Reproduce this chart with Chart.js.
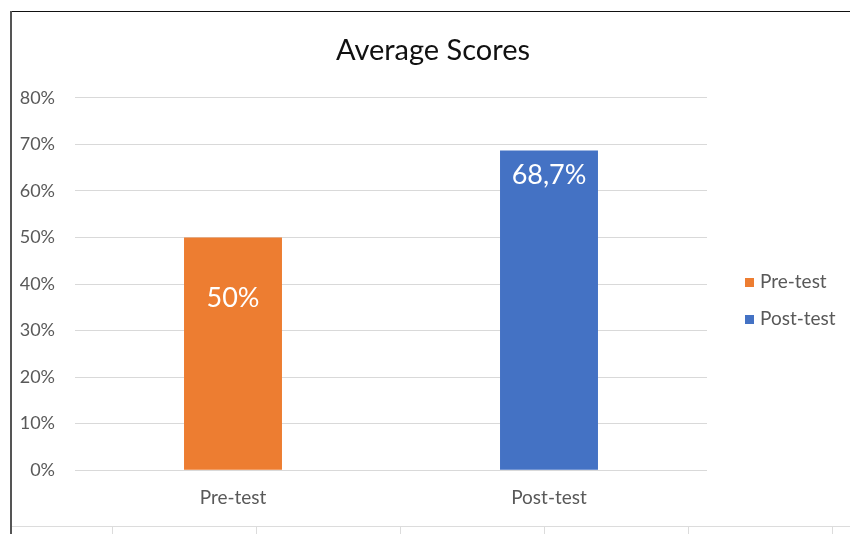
<!DOCTYPE html>
<html lang="en">

<head>
    <meta charset="UTF-8">
    <title>Average Scores</title>
    <script src="https://cdn.jsdelivr.net/npm/chart.js"></script>
    <style>
        html, body { margin: 0; padding: 0; background: #fff; }
        #wrap { width: 850px; height: 534px; }
    </style>
</head>

<body>
    <div id="wrap"><canvas id="scores-chart" width="850" height="534"></canvas></div>

    <script>
        // data
        const categories = ['Pre-test', 'Post-test'];
        const preTest = [50, null];
        const postTest = [null, 68.7];
        const valueLabels = ['50%', '68,7%'];
        const yTicks = [0, 10, 20, 30, 40, 50, 60, 70, 80];

        const labelFont = "Lato, 'Open Sans', sans-serif";

        // spreadsheet frame behind the chart
        const framePlugin = {
            id: 'frame',
            beforeDraw(chart) {
                const c = chart.ctx;
                c.save();
                c.fillStyle = '#fff';
                c.fillRect(0, 0, chart.width, chart.height);
                // cell grid below the chart
                c.strokeStyle = '#dcdcdc';
                c.lineWidth = 1;
                c.beginPath();
                c.moveTo(10, 526.5); c.lineTo(850, 526.5);
                [112, 256, 400, 544, 688, 832].forEach(x => {
                    c.moveTo(x + 0.5, 526); c.lineTo(x + 0.5, 534);
                });
                c.stroke();
                // chart border
                c.strokeStyle = '#111';
                c.beginPath();
                c.moveTo(10, 11.5); c.lineTo(850, 11.5);
                c.stroke();
                c.strokeStyle = '#555';
                c.lineWidth = 2;
                c.beginPath();
                c.moveTo(11, 11); c.lineTo(11, 534);
                c.stroke();
                c.restore();
            }
        };

        // values inside each bar + legend on the right
        const labelOffsets = [47, 11];
        const labelPlugin = {
            id: 'barLabels',
            afterDatasetsDraw(chart) {
                const c = chart.ctx;
                c.save();
                c.fillStyle = '#fff';
                c.font = '27px ' + labelFont;
                c.textAlign = 'center';
                c.textBaseline = 'top';
                chart.data.datasets.forEach((ds, i) => {
                    chart.getDatasetMeta(i).data.forEach((bar, j) => {
                        if (ds.data[j] == null) return;
                        c.fillText(valueLabels[j], bar.x, bar.y + labelOffsets[j]);
                    });
                });

                // legend
                c.font = '19px ' + labelFont;
                c.textAlign = 'left';
                c.textBaseline = 'middle';
                chart.data.datasets.forEach((ds, i) => {
                    const y = 282 + i * 37;
                    c.fillStyle = ds.backgroundColor;
                    c.fillRect(745, y - 4, 9, 9);
                    c.fillStyle = '#595959';
                    c.fillText(ds.label, 760, y);
                });
                c.restore();
            }
        };

        new Chart(document.getElementById('scores-chart'), {
            type: 'bar',
            data: {
                labels: categories,
                datasets: [
                    { label: 'Pre-test', data: preTest, backgroundColor: '#ED7D31' },
                    { label: 'Post-test', data: postTest, backgroundColor: '#4472C4' }
                ]
            },
            options: {
                responsive: false,
                animation: false,
                skipNull: true,
                categoryPercentage: 0.31,
                barPercentage: 1,
                layout: { padding: { left: 16, right: 0, top: 11, bottom: 17 } },
                plugins: {
                    legend: { display: false },
                    tooltip: { enabled: false },
                    title: {
                        display: true,
                        text: 'Average Scores',
                        color: '#111',
                        font: { family: labelFont, size: 29, weight: 'normal' },
                        padding: { top: 22, bottom: 30 }
                    }
                },
                scales: {
                    x: {
                        grid: { display: false },
                        border: { display: false },
                        ticks: { color: '#595959', font: { family: labelFont, size: 19 }, padding: 8 }
                    },
                    y: {
                        min: 0,
                        max: 80,
                        afterBuildTicks: s => { s.ticks = yTicks.map(v => ({ value: v })); },
                        afterFit: s => { s.width = 59; },
                        grid: { color: '#d9d9d9', drawTicks: false },
                        border: { display: false },
                        ticks: {
                            color: '#595959',
                            font: { family: labelFont, size: 18 },
                            padding: 20,
                            callback: v => v + '%'
                        }
                    },
                    // empty strip on the right where the legend sits
                    side: {
                        position: 'right',
                        display: true,
                        min: 0,
                        max: 80,
                        afterFit: s => { s.width = 143; },
                        grid: { display: false },
                        border: { display: false },
                        ticks: { display: false }
                    }
                }
            },
            plugins: [framePlugin, labelPlugin]
        });
    </script>
</body>

</html>
